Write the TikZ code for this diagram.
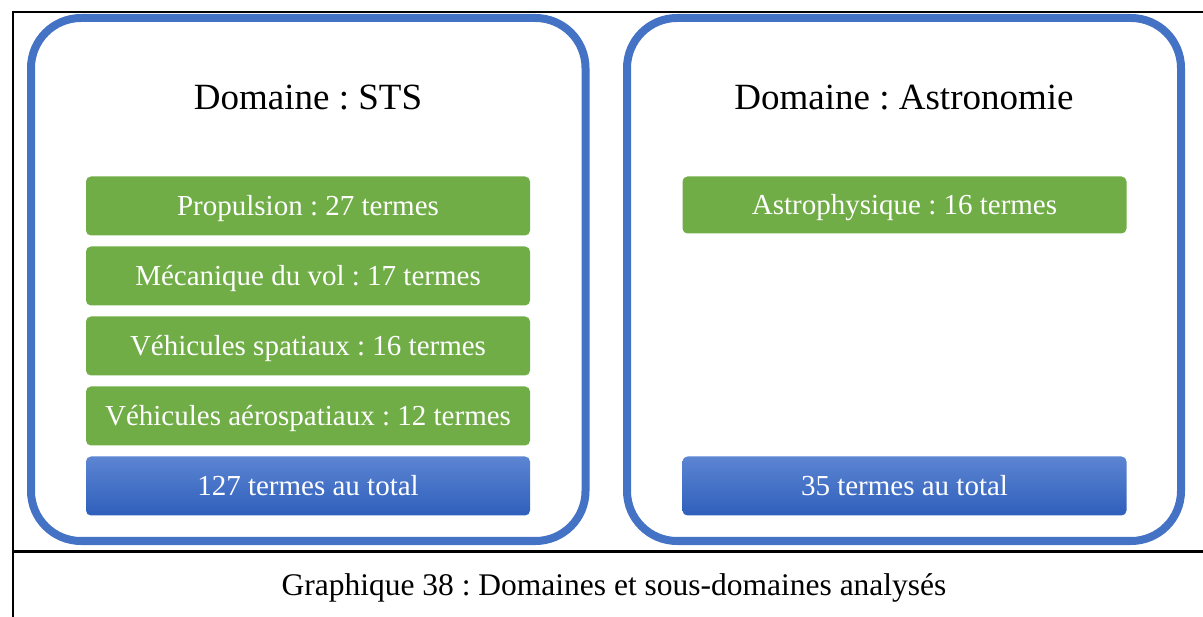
\documentclass[tikz,border=0pt]{standalone}
\usepackage{fontspec}
\setmainfont{Liberation Serif}
\frenchspacing
\definecolor{frameblue}{RGB}{68,114,196}
\definecolor{boxgreen}{RGB}{112,173,71}
\definecolor{topblue}{RGB}{92,133,210}
\definecolor{botblue}{RGB}{47,95,188}
\begin{document}
\begin{tikzpicture}[x=1pt,y=-1pt,
  domainbox/.style={draw=frameblue,line width=8pt,rounded corners=50pt},
  subbox/.style={fill=boxgreen,rounded corners=5pt,text=white,font=\fontsize{29}{32}\selectfont,minimum width=444pt,minimum height=59pt,inner sep=0pt,text depth=2pt},
  totalbox/.style={subbox,fill=none,top color=topblue,bottom color=botblue},
  titletext/.style={font=\fontsize{37}{40}\selectfont,inner sep=0pt},
  rule/.style={line width=2.5pt,black}]
\useasboundingbox (0,0) rectangle (1203,617);
% frame lines
\coordinate (tl) at (13,12);
\coordinate (tr) at (1203,12);
\coordinate (bl) at (13,617);
\coordinate (ml) at (13,551.5);
\coordinate (mr) at (1203,551.5);
\draw[rule] (tr) -- (tl) -- (bl);
\draw[rule] (ml) -- (mr);
% domain boxes
\draw[domainbox] (31,18) rectangle (585.5,541);
\draw[domainbox] (627,18) rectangle (1181,541);
% titles
\node[titletext] (t1) at (308,98) {Domaine : STS};
\node[titletext] (t2) at (904,98) {Domaine : Astronomie};
% left sub boxes
\node[subbox] (p) at (308,206) {Propulsion : 27 termes};
\node[subbox] (m) at (308,276) {Mécanique du vol : 17 termes};
\node[subbox] (vs) at (308,346) {Véhicules spatiaux : 16 termes};
\node[subbox] (va) at (308,416) {Véhicules aérospatiaux : 12 termes};
\node[totalbox] (tot1) at (308,486) {127 termes au total};
% right sub boxes
\node[subbox,minimum height=57pt] (a) at (904.5,205) {Astrophysique : 16 termes};
\node[totalbox] (tot2) at (904.5,486) {35 termes au total};
% caption
\node[font=\fontsize{31.5}{34}\selectfont,inner sep=0pt] (cap) at (614,588) {Graphique 38 : Domaines et sous-domaines analysés};
\end{tikzpicture}
\end{document}
